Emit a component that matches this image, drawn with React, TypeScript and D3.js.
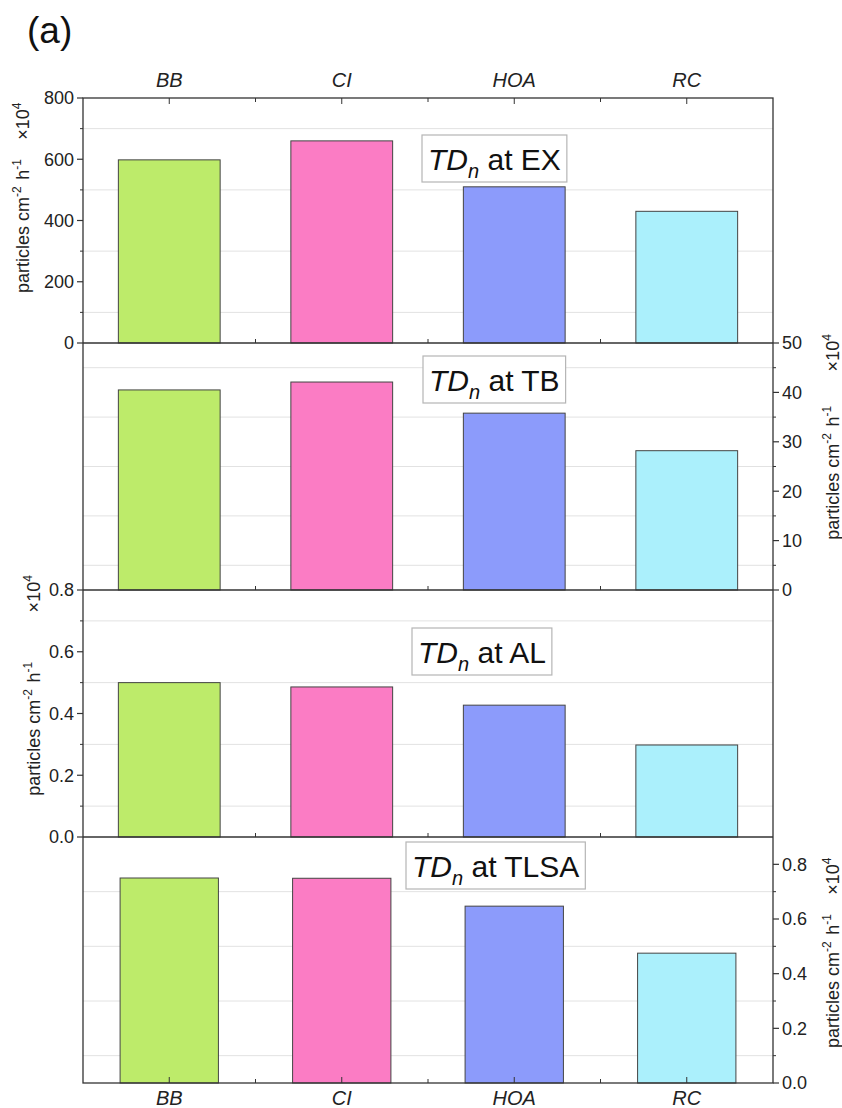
import React from 'react';
import * as d3 from 'd3';

const categories = ['BB', 'CI', 'HOA', 'RC'];
const barColors = ['#bdeb6a', '#fb7cc4', '#8c9bfb', '#abf0fc'];

const sites = ['EX', 'TB', 'AL', 'TLSA'];
const exValues = [598, 660, 510, 430];
const tbValues = [40.5, 42.1, 35.8, 28.2];
const alValues = [0.5, 0.486, 0.427, 0.298];
const tlsaValues = [0.75, 0.749, 0.647, 0.475];

const exTicks = [0, 200, 400, 600, 800];
const tbTicks = [0, 10, 20, 30, 40, 50];
const alTicks = [0, 0.2, 0.4, 0.6, 0.8];
const tlsaTicks = [0, 0.2, 0.4, 0.6, 0.8];

const exMinor = [100, 300, 500, 700];
const tbMinor = [5, 15, 25, 35, 45];
const alMinor = [0.1, 0.3, 0.5, 0.7];
const tlsaMinor = [0.1, 0.3, 0.5, 0.7];

const FONT = '"Liberation Sans", Arial, sans-serif';
const left = 83;
const right = 773;

const panels = [
    { site: sites[0], values: exValues, max: 800, ticks: exTicks, minor: exMinor, fmt: d3.format('d'), side: 'left', top: 98, bottom: 343, pad: 0.41, box: [428, 170] },
    { site: sites[1], values: tbValues, max: 50, ticks: tbTicks, minor: tbMinor, fmt: d3.format('d'), side: 'right', top: 343, bottom: 590, pad: 0.41, box: [429, 391] },
    { site: sites[2], values: alValues, max: 0.8, ticks: alTicks, minor: alMinor, fmt: d3.format('.1f'), side: 'left', top: 590, bottom: 837, pad: 0.41, box: [418, 663] },
    { site: sites[3], values: tlsaValues, max: 0.9, ticks: tlsaTicks, minor: tlsaMinor, fmt: d3.format('.1f'), side: 'right', top: 837, bottom: 1083, pad: 0.43, box: [412, 877] },
];

function Unit({ x, y, parts }: { x: number; y: number; parts: 'all' | 'base' | 'exp' }) {
    const sup = (s: string) => (
        <>
            <tspan dy={-8} fontSize={12}>{s}</tspan>
            <tspan dy={8}>{'\u200a'}</tspan>
        </>
    );
    return (
        <text transform={`translate(${x},${y}) rotate(-90)`} textAnchor="middle" fontSize={18} fill="#222">
            {parts !== 'exp' && (
                <>
                    particles cm{sup('-2')} h{sup('-1')}
                </>
            )}
            {parts === 'all' && <tspan>{'\u2002\u2002'}</tspan>}
            {parts !== 'base' && (
                <>
                    ×10{sup('4')}
                </>
            )}
        </text>
    );
}

function Label({ x, y, site }: { x: number; y: number; site: string }) {
    const ref = React.useRef<SVGTextElement>(null);
    const [bb, setBb] = React.useState<{ x: number; width: number } | null>(null);
    React.useLayoutEffect(() => {
        if (ref.current) {
            const b = ref.current.getBBox();
            setBb({ x: b.x, width: b.width });
        }
    }, [site]);
    return (
        <g>
            {bb && (
                <rect x={bb.x - 6} y={y - 35} width={bb.width + 12} height={47} fill="#fff" stroke="#b5b5b5" strokeWidth={1.2} />
            )}
            <text ref={ref} x={x} y={y} fontSize={30} fill="#111">
                <tspan fontStyle="italic">TD</tspan>
                <tspan fontStyle="italic" fontSize={20} dy={8}>n</tspan>
                <tspan dy={-8}> at {site}</tspan>
            </text>
        </g>
    );
}

function Panel({ p }: { p: (typeof panels)[number] }) {
    const x = d3.scaleBand<string>().domain(categories).range([left, right]).paddingInner(p.pad).paddingOuter(p.pad / 2);
    const y = d3.scaleLinear().domain([0, p.max]).range([p.bottom, p.top]);
    const ax = p.side === 'left' ? left : right;
    const dir = p.side === 'left' ? -1 : 1;
    const step = x.step();
    return (
        <g>
            {p.minor.map((v) => (
                <line key={'g' + v} x1={left} x2={right} y1={y(v)} y2={y(v)} stroke="#e2e2e2" strokeWidth={1} />
            ))}
            {categories.map((c, i) => (
                <rect key={c} x={x(c)} y={y(p.values[i])} width={x.bandwidth()} height={p.bottom - y(p.values[i])} fill={barColors[i]} stroke="#444" strokeWidth={1} />
            ))}
            {[1, 2, 3].map((k) => (
                <line key={'b' + k} x1={left + k * step} x2={left + k * step} y1={p.bottom} y2={p.bottom - 4} stroke="#333" />
            ))}
            {p.ticks.map((v) => (
                <g key={'t' + v}>
                    <line x1={ax} x2={ax + dir * 6} y1={y(v)} y2={y(v)} stroke="#333" strokeWidth={1.2} />
                    <text x={ax + dir * 9} y={y(v)} dy="0.36em" textAnchor={p.side === 'left' ? 'end' : 'start'} fontSize={18} fill="#222">
                        {p.fmt(v)}
                    </text>
                </g>
            ))}
            {p.minor.map((v) => (
                <line key={'m' + v} x1={ax} x2={ax + dir * 3} y1={y(v)} y2={y(v)} stroke="#333" />
            ))}
            <Label x={p.box[0]} y={p.box[1]} site={p.site} />
        </g>
    );
}

export default function App() {
    const xc = d3.scaleBand<string>().domain(categories).range([left, right]).paddingInner(0.41).paddingOuter(0.205);
    const cx = (c: string) => (xc(c) as number) + xc.bandwidth() / 2;
    return (
        <svg width={842} height={1108} style={{ position: 'absolute', left: 0, top: 0, background: '#fff' }} fontFamily={FONT}>
            <rect width={842} height={1108} fill="#fff" />
            <text x={27} y={43} fontSize={37} fill="#111">(a)</text>
            {panels.map((p) => (
                <Panel key={p.site} p={p} />
            ))}
            <g stroke="#333" strokeWidth={1.3} fill="none">
                <rect x={left} y={98} width={right - left} height={1083 - 98} />
                {[343, 590, 837].map((v) => (
                    <line key={v} x1={left} x2={right} y1={v} y2={v} />
                ))}
            </g>
            {categories.map((c, i) => (
                <g key={c}>
                    <line x1={cx(c)} x2={cx(c)} y1={98} y2={104} stroke="#333" />
                    <line x1={cx(c)} x2={cx(c)} y1={1083} y2={1077} stroke="#333" />
                    {i > 0 && <line x1={left + i * xc.step()} x2={left + i * xc.step()} y1={98} y2={102} stroke="#333" />}
                    <text x={cx(c)} y={87} textAnchor="middle" fontSize={20} fontStyle="italic" fill="#222">{c}</text>
                    <text x={cx(c)} y={1105} textAnchor="middle" fontSize={20} fontStyle="italic" fill="#222">{c}</text>
                </g>
            ))}
            <Unit x={29} y={197} parts="all" />
            <Unit x={839} y={472} parts="base" />
            <Unit x={839} y={352} parts="exp" />
            <Unit x={40} y={593} parts="exp" />
            <Unit x={40} y={728} parts="base" />
            <Unit x={839} y={952} parts="all" />
        </svg>
    );
}
